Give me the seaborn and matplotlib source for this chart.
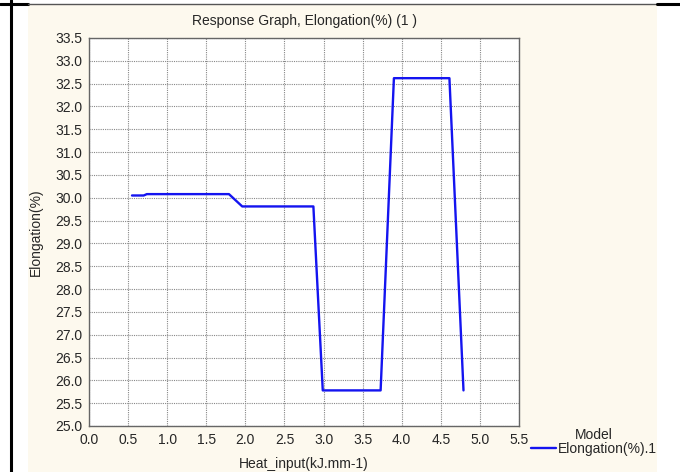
import matplotlib
matplotlib.use("Agg")
import matplotlib.pyplot as plt
from matplotlib.patches import Rectangle
from matplotlib.lines import Line2D
import seaborn as sns
import pandas as pd
import numpy as np

# values
heat_input = [0.55, 0.70, 0.74, 1.79, 1.96, 2.87, 2.99, 3.73, 3.90, 4.61, 4.79]
elongation = [30.05, 30.05, 30.08, 30.08, 29.81, 29.81, 25.78, 25.78, 32.62, 32.62, 25.78]
x_ticks = np.arange(0.0, 5.51, 0.5)
y_ticks = np.arange(25.0, 33.51, 0.5)

df = pd.DataFrame({"Heat_input(kJ.mm-1)": heat_input, "Elongation(%)": elongation})

sns.set_style("white")
plt.rcParams["font.family"] = ["Liberation Sans", "DejaVu Sans"]
plt.rcParams["font.size"] = 10

fig = plt.figure(figsize=(6.8, 4.72), dpi=100)
fig.patch.set_facecolor("white")

# cream panel and the table borders around it
W, H = 680.0, 472.0
fig.patches.append(Rectangle((28 / W, 0), (657 - 28) / W, 1 - 4 / H,
                             transform=fig.transFigure, facecolor="#fdf9ee",
                             edgecolor="none", zorder=-5))
fig.lines.append(Line2D([11 / W, 11 / W], [0, 1], transform=fig.transFigure,
                        color="black", lw=2.2, zorder=-4))
fig.lines.append(Line2D([0, 28 / W], [1 - 3.5 / H] * 2, transform=fig.transFigure,
                        color="black", lw=2.2, zorder=-4))
fig.lines.append(Line2D([28 / W, 657 / W], [1 - 3.5 / H] * 2, transform=fig.transFigure,
                        color="#555555", lw=1.0, zorder=-4))
fig.lines.append(Line2D([657 / W, 1], [1 - 3.5 / H] * 2, transform=fig.transFigure,
                        color="black", lw=2.2, zorder=-4))

ax = fig.add_axes([89 / W, 1 - 426 / H, (519 - 89) / W, (426 - 38) / H])
ax.set_facecolor("white")

sns.lineplot(data=df, x="Heat_input(kJ.mm-1)", y="Elongation(%)", sort=False,
             color="#1414f0", lw=1.7, ax=ax, label="Elongation(%).1")

ax.set_xlim(0.0, 5.5)
ax.set_ylim(25.0, 33.5)
ax.set_xticks(x_ticks)
ax.set_yticks(y_ticks)
ax.set_xticklabels([f"{v:.1f}" for v in x_ticks])
ax.set_yticklabels([f"{v:.1f}" for v in y_ticks])
ax.grid(True, color="#888888", linestyle=(0, (1, 1)), lw=0.8)
ax.tick_params(direction="in", length=3, color="#555555", pad=5, labelsize=10)
for s in ax.spines.values():
    s.set_color("#666666")
    s.set_linewidth(1.0)

ax.set_title("Response Graph, Elongation(%) (1 )", fontsize=10, pad=9)
ax.set_xlabel("Heat_input(kJ.mm-1)", fontsize=10, labelpad=7)
ax.set_ylabel("Elongation(%)", fontsize=10, labelpad=9)

leg = ax.legend(title="Model", loc="upper left", bbox_to_anchor=(531 / W, 1 - 428 / H),
                bbox_transform=fig.transFigure, frameon=False, fontsize=10,
                title_fontsize=10, handlelength=1.8, handletextpad=0.1,
                labelspacing=0.0, borderaxespad=0, borderpad=0)

fig.savefig("out.png", dpi=100, facecolor=fig.get_facecolor())
